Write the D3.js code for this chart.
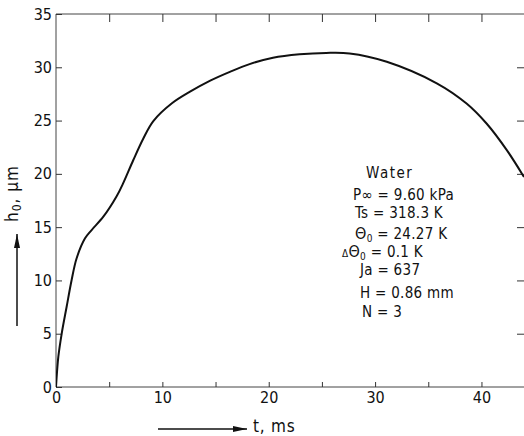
<!DOCTYPE html>
<html lang="en">
<head>
    <meta charset="UTF-8">
    <title>h0 vs t</title>
    <script src="https://d3js.org/d3.v7.min.js"></script>
    <style>
        body { margin: 0; background: #fff; }
        text { font-family: "DejaVu Sans Condensed", "DejaVu Sans", sans-serif; fill: #111; }
    </style>
</head>
<body>
<script type="text/javascript">
    // curve: t in ms, h0 in micrometres
    var tValues = [0, 0.22, 0.54, 1.0, 1.47, 1.94, 2.73, 3.35, 4.45, 5.7, 6.33, 7.27, 8.2, 9.15, 10.9, 12.6, 14.5, 16.4, 18.2, 20.4, 22.9, 25.4, 27.6, 31.1, 35.8, 38.6, 40.5, 42.4, 44.0];
    var hValues = [0, 2.84, 5.04, 7.53, 10.04, 12.08, 13.95, 14.73, 15.98, 17.9, 19.15, 21.3, 23.3, 24.95, 26.62, 27.71, 28.75, 29.6, 30.3, 30.9, 31.22, 31.35, 31.3, 30.52, 28.5, 26.6, 24.7, 22.2, 19.7];

    var xTicks = [0, 5, 10, 15, 20, 25, 30, 35, 40];
    var xTickLabels = [0, 10, 20, 30, 40];
    var yTicks = [0, 5, 10, 15, 20, 25, 30, 35];

    var notes = ["Water", "P∞ = 9.60 kPa", "Ts  = 318.3 K", "Θ0 = 24.27 K", "ΔΘ0 = 0.1  K", "Ja = 637", "H  = 0.86 mm", "N  = 3"];

    var svgWidth = 524;
    var svgHeight = 436;
    var plotLeft = 56, plotRight = 524, plotTop = 14, plotBottom = 387;

    var xScale = d3.scaleLinear().domain([0, 44]).range([plotLeft, plotRight]);
    var yScale = d3.scaleLinear().domain([0, 35]).range([plotBottom, plotTop]);

    var svg = d3.select("body").append("svg")
        .attr("width", svgWidth)
        .attr("height", svgHeight);

    svg.append("clipPath")
        .attr("id", "chart-area")
        .append("rect")
        .attr("x", plotLeft)
        .attr("y", plotTop)
        .attr("width", plotRight - plotLeft)
        .attr("height", plotBottom - plotTop);

    // frame (no right edge, the figure is cut there)
    var frame = svg.append("g").attr("stroke", "#444").attr("stroke-width", 1).attr("fill", "none");
    frame.append("line").attr("x1", plotLeft).attr("x2", plotRight).attr("y1", plotBottom).attr("y2", plotBottom);
    frame.append("line").attr("x1", plotLeft).attr("x2", plotRight).attr("y1", plotTop).attr("y2", plotTop);
    frame.append("line").attr("x1", plotLeft).attr("x2", plotLeft).attr("y1", plotTop).attr("y2", plotBottom);

    // bottom axis: inward ticks, labels every 10
    var xAxis = d3.axisBottom(xScale)
        .tickValues(xTicks)
        .tickSize(-5)
        .tickFormat(function (d) { return xTickLabels.indexOf(d) >= 0 ? d : ""; });
    var gx = svg.append("g")
        .attr("transform", "translate(0," + plotBottom + ")")
        .call(xAxis);
    gx.select(".domain").remove();
    gx.selectAll("line").attr("stroke", "#333");
    gx.selectAll("text")
        .attr("y", 5)
        .attr("font-size", "16px")
        .style("font-family", "DejaVu Sans Condensed");

    // top ticks
    var xTop = d3.axisTop(xScale).tickValues(xTicks.slice(1)).tickSize(-8).tickFormat("");
    var gt = svg.append("g").attr("transform", "translate(0," + plotTop + ")").call(xTop);
    gt.select(".domain").remove();
    gt.selectAll("line").attr("stroke", "#333");

    // left axis
    var yAxis = d3.axisLeft(yScale)
        .tickValues(yTicks)
        .tickSize(-6)
        .tickPadding(4);
    var gy = svg.append("g")
        .attr("transform", "translate(" + plotLeft + ",0)")
        .call(yAxis);
    gy.select(".domain").remove();
    gy.selectAll("line").attr("stroke", "#333");
    gy.selectAll("text")
        .attr("font-size", "16px")
        .style("font-family", "DejaVu Sans Condensed");

    // right ticks
    var yRight = d3.axisRight(yScale).tickValues(yTicks.slice(1, 7)).tickSize(-7).tickFormat("");
    var gr = svg.append("g").attr("transform", "translate(" + plotRight + ",0)").call(yRight);
    gr.select(".domain").remove();
    gr.selectAll("line").attr("stroke", "#333");

    // the curve
    var points = tValues.map(function (t, i) { return [t, hValues[i]]; });
    var line = d3.line()
        .x(function (d) { return xScale(d[0]); })
        .y(function (d) { return yScale(d[1]); })
        .curve(d3.curveCatmullRom.alpha(0.5));
    svg.append("path")
        .datum(points)
        .attr("clip-path", "url(#chart-area)")
        .attr("d", line)
        .attr("fill", "none")
        .attr("stroke", "#111")
        .attr("stroke-width", 2);

    // arrow markers
    var defs = svg.append("defs");
    defs.append("marker")
        .attr("id", "head")
        .attr("viewBox", "0 0 14 6")
        .attr("refX", 14).attr("refY", 3)
        .attr("markerWidth", 14).attr("markerHeight", 6)
        .attr("markerUnits", "userSpaceOnUse")
        .attr("orient", "auto")
        .append("path")
        .attr("d", "M0,0 L14,3 L0,6 Z")
        .attr("fill", "#111");

    // x axis title with arrow
    svg.append("line")
        .attr("x1", 158).attr("x2", 247).attr("y1", 429).attr("y2", 429)
        .attr("stroke", "#111").attr("stroke-width", 1.5)
        .attr("marker-end", "url(#head)");
    svg.append("text")
        .attr("x", 253).attr("y", 432)
        .attr("font-size", "17px")
        .attr("letter-spacing", "0.8px")
        .text("t, ms");

    // y axis title with arrow
    svg.append("line")
        .attr("x1", 17).attr("x2", 17).attr("y1", 326).attr("y2", 234)
        .attr("stroke", "#111").attr("stroke-width", 1.5)
        .attr("marker-end", "url(#head)");
    var ytitle = svg.append("text")
        .attr("transform", "translate(18,222) rotate(-90)")
        .attr("font-size", "17px")
        .attr("letter-spacing", "1px");
    ytitle.append("tspan").text("h");
    ytitle.append("tspan").attr("font-size", "12px").attr("dy", 3).text("0");
    ytitle.append("tspan").attr("dy", -3).text(", μm");

    // parameter block
    var noteX = [366, 353, 355, 355, 342, 360, 360, 362];
    var noteY = [178, 200, 218, 239, 257, 275, 298, 317];
    var nb = svg.append("g").attr("font-size", "15px").attr("letter-spacing", "0.3px");
    notes.forEach(function (s, i) {
        var t = nb.append("text").attr("x", noteX[i]).attr("y", noteY[i]);
        if (i === 0) {
            t.attr("letter-spacing", "1.5px").text(s);
        } else if (s.indexOf("Θ0") >= 0) {
            var parts = s.split("Θ0");
            if (parts[0]) t.append("tspan").attr("font-size", "10px").text(parts[0]);
            t.append("tspan").attr("font-size", "16px").text("Θ");
            t.append("tspan").attr("font-size", "10px").attr("dy", 3).text("0");
            t.append("tspan").attr("dy", -3).text(parts[1]);
        } else {
            t.text(s);
        }
    });
</script>
</body>
</html>
